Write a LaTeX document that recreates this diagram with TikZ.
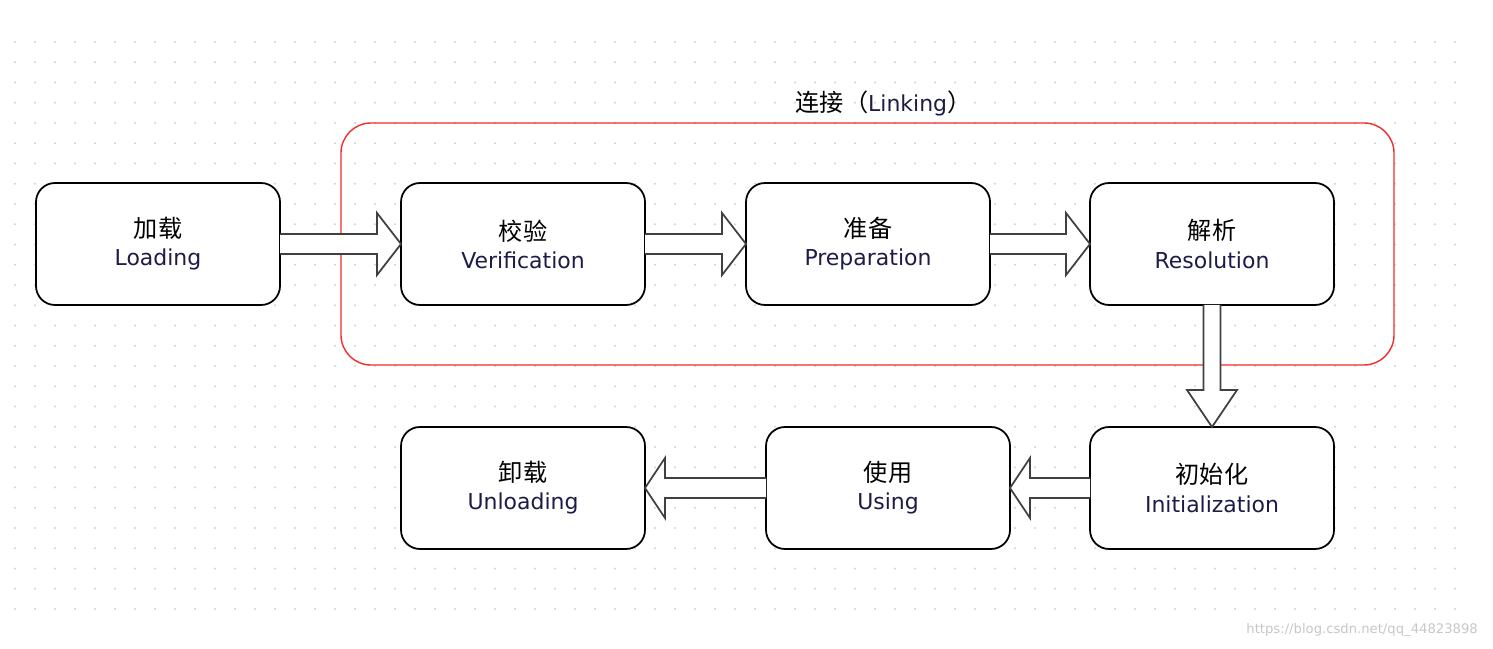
\documentclass[tikz,border=0pt]{standalone}
\usepackage{fontspec}
\setmainfont{DejaVu Sans}
\newfontfamily\cjk[Scale=1.1]{Noto Sans CJK SC}
\usetikzlibrary{positioning, calc, fit}
\definecolor{entext}{HTML}{1E1B48}
\definecolor{linkred}{HTML}{F22B2B}
\definecolor{dotgray}{HTML}{D2D2D2}
\tikzstyle{stage} = [rectangle, rounded corners=0.38cm, minimum width=4.88cm, minimum height=2.44cm, outer sep=0pt, align=center, draw=black, line width=1pt, fill=white, font=\fontsize{12.5}{16}\selectfont]
\tikzstyle{linkbox} = [rectangle, rounded corners=0.6cm, draw=linkred, line width=0.8pt, inner sep=1.2cm]
\tikzstyle{hollow} = [draw=black!75, line width=1pt, fill=white, line join=miter]
\newcommand{\stagelabel}[2]{{\cjk #1}\\\textcolor{entext}{#2}}
% from, to, head length, head half width, shaft half width
\newcommand{\blockarrow}[5]{%
  \coordinate (bahead) at ($(#2)!#3!(#1)$);
  \draw[hollow] ($(#1)!#5!90:(#2)$) -- ($(bahead)!#5!90:(#2)$) -- ($(bahead)!#4!90:(#2)$)
    -- (#2) -- ($(bahead)!#4!-90:(#2)$) -- ($(bahead)!#5!-90:(#2)$) -- ($(#1)!#5!-90:(#2)$);
}

\begin{document}
\begin{tikzpicture}
\useasboundingbox (0,0) rectangle (29.86,12.96);
% dotted background
\foreach \i in {0,...,72}
  \foreach \j in {0,...,28}
    \fill[dotgray] (0.3+0.4*\i, 12.12-0.405*\j) circle (0.022);

\node (load) [stage] at (3.16,8.08) {\stagelabel{加载}{Loading}};
\node (verif) [stage, right=2.42cm of load] {\stagelabel{校验}{Verification}};
\node (prep) [stage, right=2.02cm of verif] {\stagelabel{准备}{Preparation}};
\node (resol) [stage, right=2cm of prep] {\stagelabel{解析}{Resolution}};
\node (init) [stage, below=2.44cm of resol] {\stagelabel{初始化}{Initialization}};
\node (using) [stage, left=1.6cm of init] {\stagelabel{使用}{Using}};
\node (unload) [stage, left=2.42cm of using] {\stagelabel{卸载}{Unloading}};

\node (linking) [linkbox, fit=(verif) (prep) (resol)] {};
\node (linktitle) at ([xshift=0.32cm, yshift=0.38cm]linking.north) {\fontsize{12.5}{16}\selectfont{\cjk 连接（}\textcolor{entext}{Linking}{\cjk ）}};

\blockarrow{load.east}{verif.west}{0.48cm}{0.62cm}{0.2cm}
\blockarrow{verif.east}{prep.west}{0.48cm}{0.62cm}{0.2cm}
\blockarrow{prep.east}{resol.west}{0.48cm}{0.62cm}{0.2cm}
\blockarrow{resol.south}{init.north}{0.74cm}{0.5cm}{0.17cm}
\blockarrow{init.west}{using.east}{0.4cm}{0.6cm}{0.2cm}
\blockarrow{using.west}{unload.east}{0.4cm}{0.6cm}{0.2cm}

\node (mark) [anchor=east, text=black!22, font=\fontsize{7.5}{9}\selectfont] at (29.68,0.36) {https://blog.csdn.net/qq\_44823898};
\end{tikzpicture}
\end{document}
